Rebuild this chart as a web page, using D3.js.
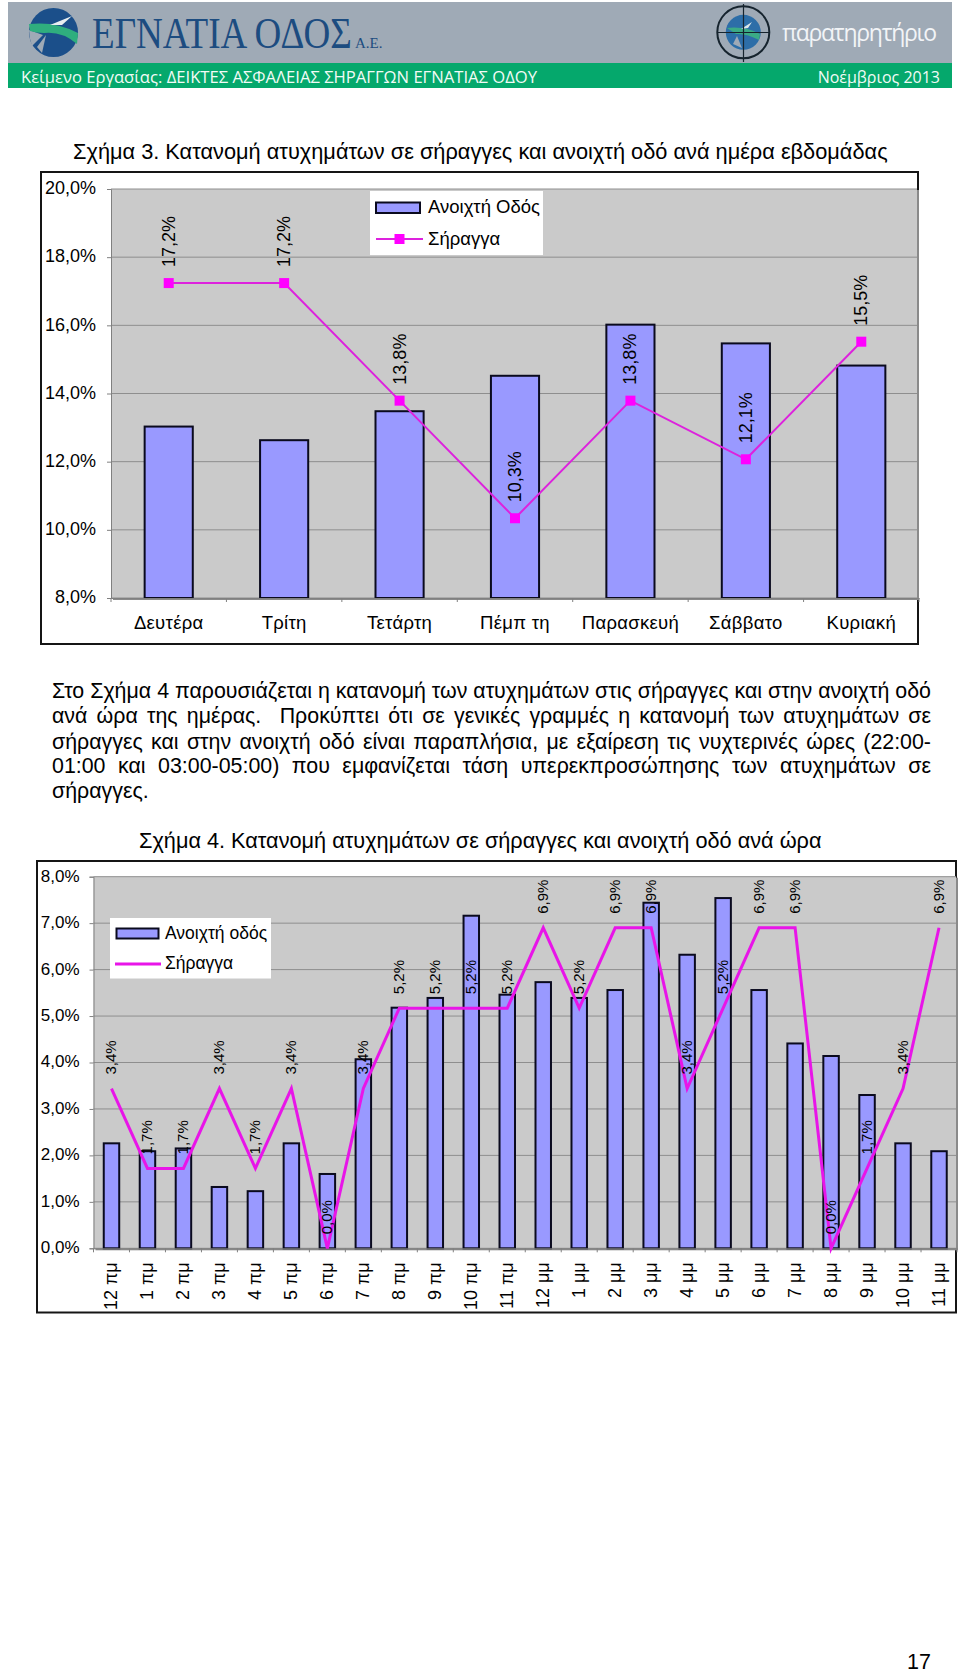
<!DOCTYPE html>
<html><head><meta charset="utf-8">
<script src="https://cdn.jsdelivr.net/npm/d3@7/dist/d3.min.js"></script>
<style>
html,body{margin:0;padding:0;background:#fff}
svg{display:block}
text{font-family:"Liberation Sans",Arial,sans-serif;fill:#000}
</style></head><body>
<svg id="page" width="960" height="1673"></svg>
<script>
// ---------- data: Σχήμα 3 ----------
const days = ["Δευτέρα","Τρίτη","Τετάρτη","Πέμπ τη","Παρασκευή","Σάββατο","Κυριακή"];
const dayRoad = [13.03,12.63,13.48,14.52,16.02,15.47,14.82];
const dayTunnel = [17.24,17.24,13.79,10.34,13.79,12.07,15.52];
const dayTicks = [8,10,12,14,16,18,20];
// ---------- data: Σχήμα 4 ----------
const hours = ["12 πμ","1 πμ","2 πμ","3 πμ","4 πμ","5 πμ","6 πμ","7 πμ","8 πμ","9 πμ","10 πμ","11 πμ",
               "12 μμ","1 μμ","2 μμ","3 μμ","4 μμ","5 μμ","6 μμ","7 μμ","8 μμ","9 μμ","10 μμ","11 μμ"];
const hourRoad = [2.26,2.09,2.15,1.32,1.23,2.26,1.60,4.07,5.18,5.39,7.16,5.46,
                  5.73,5.39,5.56,7.44,6.32,7.54,5.56,4.41,4.14,3.30,2.26,2.09];
const hourTunnel = [3.44,1.72,1.72,3.44,1.72,3.44,0,3.44,5.17,5.17,5.17,5.17,
                    6.90,5.17,6.90,6.90,3.44,5.17,6.90,6.90,0,1.72,3.44,6.90];
const hourTicks = [0,1,2,3,4,5,6,7,8];
// ---------- text ----------
const bandLeft = "Κείμενο Εργασίας: ΔΕΙΚΤΕΣ ΑΣΦΑΛΕΙΑΣ ΣΗΡΑΓΓΩΝ ΕΓΝΑΤΙΑΣ ΟΔΟΥ";
const bandRight = "Νοέμβριος 2013";
const title3 = "Σχήμα 3. Κατανομή ατυχημάτων σε σήραγγες και ανοιχτή οδό ανά ημέρα εβδομάδας";
const title4 = "Σχήμα 4. Κατανομή ατυχημάτων σε σήραγγες και ανοιχτή οδό ανά ώρα";
const para = ["Στο Σχήμα 4 παρουσιάζεται η κατανομή των ατυχημάτων στις σήραγγες και στην ανοιχτή οδό",
 "ανά ώρα της ημέρας.  Προκύπτει ότι σε γενικές γραμμές η κατανομή των ατυχημάτων σε",
 "σήραγγες και στην ανοιχτή οδό είναι παραπλήσια, με εξαίρεση τις νυχτερινές ώρες (22:00-",
 "01:00 και 03:00-05:00) που εμφανίζεται τάση υπερεκπροσώπησης των ατυχημάτων σε",
 "σήραγγες."];

const svg = d3.select("#page");
const pct = v => d3.format(".1f")(v).replace(".",",")+"%";
// set a text's font size so that its natural width equals the target width
const fit = (el,target)=>{
  const fs = +el.attr("font-size"), w = el.node().getComputedTextLength();
  const nf = fs*target/w; el.attr("font-size",nf); return nf;
};

// ---------- header ----------
const hdr = svg.append("g");
hdr.append("rect").attr("x",8).attr("y",2).attr("width",944).attr("height",61).attr("fill","#9faab6");
hdr.append("rect").attr("x",8).attr("y",63).attr("width",944).attr("height",25).attr("fill","#05a86c");
// road logo
const lg = hdr.append("g");
lg.append("circle").attr("cx",53.5).attr("cy",32.5).attr("r",24.5).attr("fill","#1b4f8a");
lg.append("path").attr("d","M29 30 L43 35 L32 46 Q29 38 29 30Z").attr("fill","#9faab6");
lg.append("path").attr("d","M29 24 Q56 21 78 33 L77 44 Q62 31 44 33 Q36 33 30 31Z").attr("fill","#2fae7e");
lg.append("path").attr("d","M72 16 L50 25 L62 25Z").attr("fill","#e8eef0");
lg.append("path").attr("d","M46 35 L42 53 L37 47Z").attr("fill","#9faab6");
const brand = hdr.append("text").text("ΕΓΝΑΤΙΑ ΟΔΟΣ").attr("font-size",45)
  .style("fill","#1c4c80").style("font-family","'Liberation Serif',serif");
const brandFs = fit(brand,260);
brand.attr("transform",`translate(92,48) scale(1,${45/brandFs})`);
hdr.append("text").text("Α.Ε.").attr("x",355).attr("y",48).attr("font-size",15).style("fill","#1c4c80").style("font-family","'Liberation Serif',serif");
// observatory logo
const ob = hdr.append("g");
ob.append("circle").attr("cx",743.3).attr("cy",32.3).attr("r",17.5).attr("fill","#2d6ea8");
ob.append("path").attr("d","M727 28 Q745 26 760 34 L759 40 Q746 33 736 34 Z").attr("fill","#3bab86");
ob.append("path").attr("d","M752 22 L741 29 L748 28Z").attr("fill","#dfe8ea");
ob.append("path").attr("d","M737 36 L742 48 L733 44Z").attr("fill","#9faab6");
ob.append("circle").attr("cx",743.3).attr("cy",32.3).attr("r",26).attr("fill","none").attr("stroke","#16242e").attr("stroke-width",2);
ob.append("path").attr("d","M717 32.5H770M743.5 4V62").attr("fill","none").attr("stroke","#16242e").attr("stroke-width",1.2);
hdr.append("text").text("παρατηρητήριο").attr("x",782).attr("y",41).attr("font-size",23).attr("textLength",155).style("fill","#f2f4f7").style("font-family","'Open Sans',sans-serif");
hdr.append("text").text(bandLeft).attr("x",21).attr("y",83).attr("font-size",16).attr("textLength",516).attr("lengthAdjust","spacingAndGlyphs").style("fill","#f2fbf6").style("font-family","'Open Sans',sans-serif");
hdr.append("text").text(bandRight).attr("x",940).attr("y",83).attr("font-size",16).attr("text-anchor","end").style("fill","#f2fbf6").style("font-family","'Open Sans',sans-serif");

// ---------- body text ----------
fit(svg.append("text").text(title3).attr("x",73).attr("y",159).attr("font-size",20.5),815);
fit(svg.append("text").text(title4).attr("x",139).attr("y",848).attr("font-size",20.5),683);
const paraX = 52, paraR = 931, paraY = [698,723,749,773,798];
const paraEls = para.map((t,i)=>svg.append("text").text(t).attr("x",paraX).attr("y",paraY[i]).attr("font-size",19).style("white-space","pre"));
const paraFs = fit(paraEls[0],paraR-paraX);
paraEls.forEach((el,i)=>{
  el.attr("font-size",paraFs);
  if(i<4){
    const w = el.node().getComputedTextLength();
    const gaps = para[i].split(" ").length-1;
    el.style("word-spacing",((paraR-paraX-w)/gaps)+"px");
  }
});
svg.append("text").text("17").attr("x",931).attr("y",1668.5).attr("text-anchor","end").attr("font-size",21.5);

// ---------- generic chart ----------
function chart(c){
  const g = svg.append("g");
  g.append("rect").attr("x",c.frame[0]).attr("y",c.frame[1]).attr("width",c.frame[2]-c.frame[0]).attr("height",c.frame[3]-c.frame[1])
    .attr("fill","#fff").attr("stroke","#151515").attr("stroke-width",2);
  const x = d3.scaleBand().domain(c.cats).range([c.left,c.xr]).paddingInner(c.pad).paddingOuter(c.pad/2);
  const y = d3.scaleLinear().domain(c.dom).range([c.bottom,c.top]);
  g.append("rect").attr("x",c.left+2).attr("y",c.top+1).attr("width",c.right-c.left).attr("height",c.bottom-c.top+1).attr("fill","#8a8a8a");
  g.append("rect").attr("x",c.left).attr("y",c.top).attr("width",c.right-c.left).attr("height",c.bottom-c.top).attr("fill","#cacaca");
  // grid
  g.append("g").selectAll("line").data(c.ticks).join("line")
    .attr("x1",c.left).attr("x2",c.right).attr("y1",d=>y(d)).attr("y2",d=>y(d))
    .attr("stroke","#8e8e8e").attr("stroke-width",1);
  // y axis
  const ya = g.append("g").attr("transform",`translate(${c.left},0)`).call(d3.axisLeft(y).tickValues(c.ticks).tickFormat(pct).tickSize(4).tickPadding(c.yPad));
  ya.selectAll("text").attr("font-size",c.tickFs).attr("y",-1).style("font-family","'Liberation Sans',sans-serif");
  ya.selectAll("line,path").attr("stroke","#808080");
  // bars
  g.append("g").selectAll("rect").data(c.road).join("rect")
    .attr("x",(d,i)=>x(c.cats[i])).attr("width",x.bandwidth())
    .attr("y",d=>y(d)).attr("height",d=>c.bottom-y(d))
    .attr("fill","#9999ff").attr("stroke","#0a0a1e").attr("stroke-width",2);
  // x axis
  const xa = g.append("g").attr("transform",`translate(0,${c.bottom})`).call(d3.axisBottom(x).tickSize(0).tickPadding(c.xPad));
  xa.select("path").attr("stroke","#808080");
  xa.selectAll("text").attr("font-size",c.catFs).style("letter-spacing",c.catLs).style("font-family","'Liberation Sans',sans-serif");
  if(c.rotate) xa.selectAll("text").attr("transform","rotate(-90)").attr("text-anchor","end").attr("x",-14).attr("y",5.5).attr("dy",0);
  g.append("g").selectAll("line").data(d3.range(c.cats.length+1)).join("line")
    .attr("x1",i=>c.left+i*x.step()).attr("x2",i=>c.left+i*x.step()).attr("y1",c.bottom).attr("y2",c.bottom+4).attr("stroke","#808080");
  // tunnel line
  const cx = i=>x(c.cats[i])+x.bandwidth()/2;
  const line = d3.line().x((d,i)=>cx(i)).y(d=>y(d));
  g.append("path").datum(c.tunnel).attr("d",line).attr("fill","none").attr("stroke",c.lineColor).attr("stroke-width",c.lineW).attr("stroke-linejoin","miter");
  if(c.marker) g.append("g").selectAll("rect").data(c.tunnel).join("rect")
    .attr("x",(d,i)=>cx(i)-5).attr("y",d=>y(d)-5).attr("width",10).attr("height",10).attr("fill","#ff00ff");
  // value labels
  g.append("g").selectAll("text").data(c.tunnel).join("text")
    .text(pct).attr("font-size",c.labelFs).attr("text-anchor","start")
    .attr("transform",(d,i)=>`translate(${cx(i)+c.labelDx},${y(d)-c.labelGap}) rotate(-90)`);
  // legend
  const L = c.legend, lg = g.append("g");
  lg.append("rect").attr("x",L.box[0]).attr("y",L.box[1]).attr("width",L.box[2]-L.box[0]).attr("height",L.box[3]-L.box[1]).attr("fill","#fff");
  lg.append("rect").attr("x",L.sw[0]).attr("y",L.sw[1]).attr("width",L.sw[2]).attr("height",L.sw[3]).attr("fill","#9999ff").attr("stroke","#0a0a1e").attr("stroke-width",2);
  lg.append("line").attr("x1",L.ln[0]).attr("x2",L.ln[1]).attr("y1",L.ln[2]).attr("y2",L.ln[2]).attr("stroke",c.lineColor).attr("stroke-width",c.lineW);
  if(c.marker) lg.append("rect").attr("x",(L.ln[0]+L.ln[1])/2-5).attr("y",L.ln[2]-5).attr("width",10).attr("height",10).attr("fill","#ff00ff");
  lg.append("text").text(L.names[0]).attr("x",L.tx).attr("y",L.ty[0]).attr("font-size",L.fs);
  lg.append("text").text(L.names[1]).attr("x",L.tx).attr("y",L.ty[1]).attr("font-size",L.fs);
}

chart({cats:days,road:dayRoad,tunnel:dayTunnel,ticks:dayTicks,dom:[8,20],
  frame:[41,172,918,644],left:111,right:917,xr:919,top:189,bottom:598,pad:0.583,
  tickFs:18,yPad:11,catFs:18.5,catLs:"0.3px",xPad:18,rotate:false,lineColor:"#dd22dd",lineW:2,marker:true,
  labelFs:18,labelDx:6,labelGap:16,
  legend:{box:[370,191,543,255],sw:[376,202.5,44,10.5],ln:[376,423,239],names:["Ανοιχτή Οδός","Σήραγγα"],tx:428,ty:[213,245],fs:18.5}});

chart({cats:hours,road:hourRoad,tunnel:hourTunnel,ticks:hourTicks,dom:[0,8],
  frame:[37,861,956,1312.5],left:93.5,right:956,xr:957,top:876.7,bottom:1248.3,pad:0.57,
  tickFs:17,yPad:10,catFs:18,catLs:"0",xPad:14,rotate:true,lineColor:"#e815e8",lineW:3,marker:false,
  labelFs:15,labelDx:4.5,labelGap:14,
  legend:{box:[110,918,271,978.5],sw:[116.5,928.5,42,10],ln:[115,161,964],names:["Ανοιχτή οδός","Σήραγγα"],tx:165,ty:[939,969],fs:17.5}});
</script>
</body></html>
